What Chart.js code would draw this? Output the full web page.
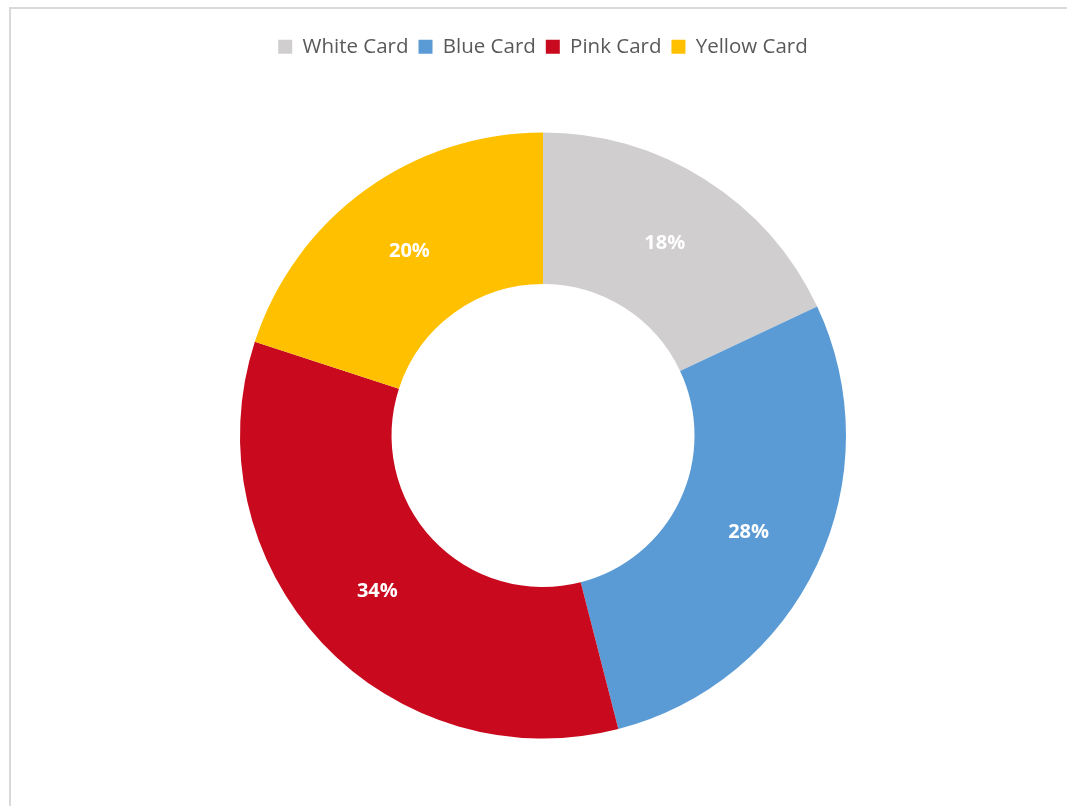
<!DOCTYPE html>
<html>
<head>
<meta charset="utf-8">
<script src="https://cdn.jsdelivr.net/npm/chart.js@4.4.1/dist/chart.umd.min.js"></script>
<style>
    html, body { margin: 0; padding: 0; background: #fff; }
    .frame {
        position: absolute;
        left: 9px;
        top: 7px;
        width: 1080px;
        height: 820px;
        border-left: 2px solid #d9d9d9;
        border-top: 2px solid #d9d9d9;
    }
    .wrap {
        position: absolute;
        left: 0;
        top: 0;
        width: 1067px;
        height: 806px;
    }
</style>
</head>
<body>
<div class="frame"></div>
<div class="wrap"><canvas id="card_chart"></canvas></div>
<script>
const card_labels = ['White Card', 'Blue Card', 'Pink Card', 'Yellow Card'];
const card_shares = [18, 28, 34, 20];
const card_colors = ['#D0CECE', '#5B9BD5', '#C8091E', '#FFC000'];

const ctx = document.getElementById('card_chart').getContext('2d');

// writes the percentage in the middle of each ring slice
const sliceLabels = {
    id: 'sliceLabels',
    afterDatasetsDraw(chart) {
        const c = chart.ctx;
        const meta = chart.getDatasetMeta(0);
        c.save();
        c.fillStyle = '#ffffff';
        c.font = 'bold 20px "Open Sans"';
        c.textAlign = 'center';
        c.textBaseline = 'middle';
        meta.data.forEach((arc, i) => {
            const pos = arc.getCenterPoint();
            c.fillText(card_shares[i] + '%', pos.x, pos.y);
        });
        c.restore();
    }
};

let my_chart = new Chart(ctx, {
    type: 'doughnut',
    data: {
        labels: card_labels,
        datasets: [{
            data: card_shares,
            backgroundColor: card_colors,
            borderWidth: 0
        }]
    },
    options: {
        responsive: true,
        maintainAspectRatio: false,
        animation: false,
        radius: 303,
        cutout: '50%',
        layout: {
            padding: { left: 19, top: 26.5, right: 0, bottom: 2 }
        },
        plugins: {
            tooltip: { enabled: false },
            legend: {
                position: 'top',
                labels: {
                    color: '#595959',
                    font: { family: '"Open Sans"', size: 20.5 },
                    boxWidth: 14,
                    boxHeight: 14,
                    padding: 10
                }
            }
        }
    },
    plugins: [sliceLabels]
});
</script>
</body>
</html>
